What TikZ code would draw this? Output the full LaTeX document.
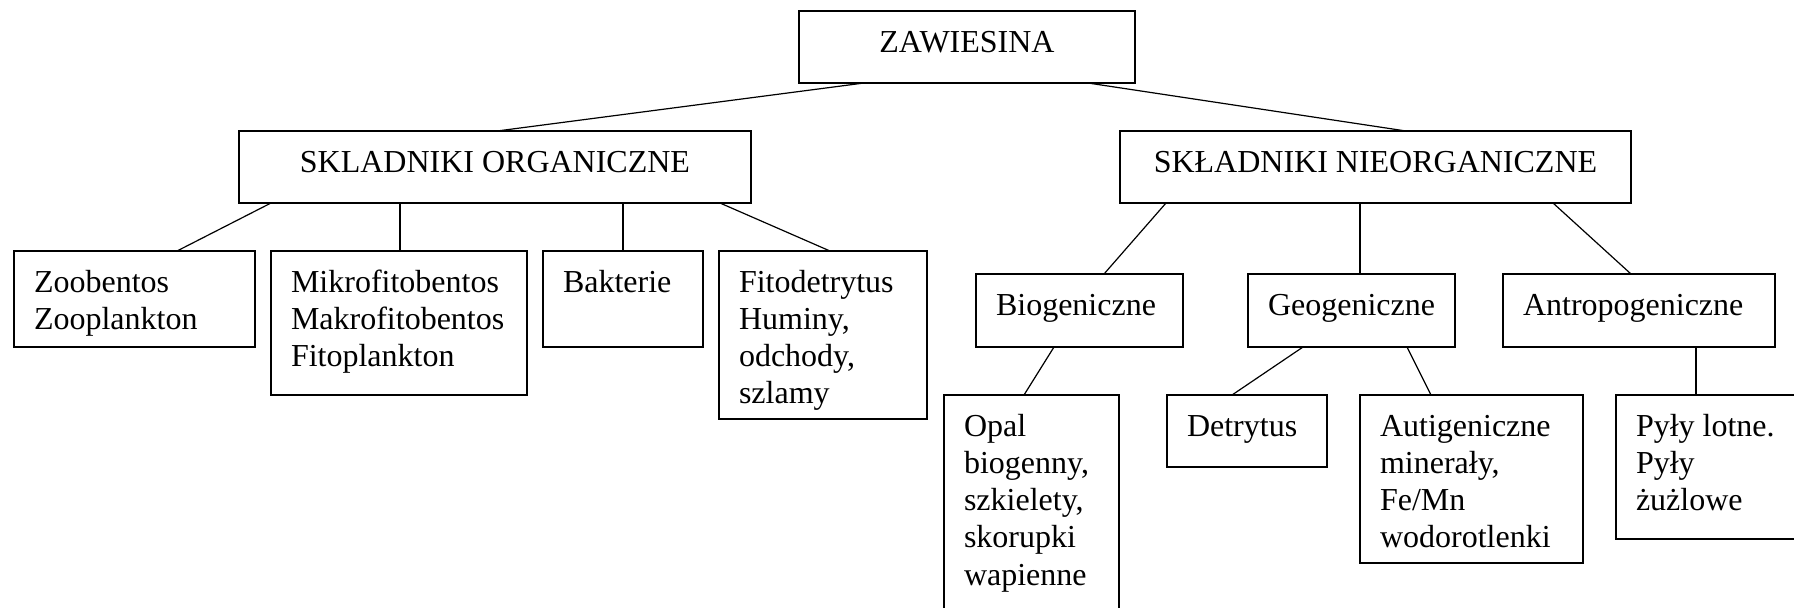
\documentclass[tikz,border=0pt]{standalone}
\usepackage{fontspec}
\setmainfont{Liberation Serif}
\usetikzlibrary{calc}
\newcommand\lbox[3]{\vbox to #2{\hsize=#1\relax\parindent=0pt\leftskip=10pt\rightskip=0pt plus 1fil\parfillskip=0pt plus 1fil\baselineskip=18.65pt\lineskiplimit=-100pt\hbadness=10000\noindent\rule{0pt}{20.5pt}#3\par\vfil}}
\newcommand\cbox[3]{\vbox to #2{\hsize=#1\relax\parindent=0pt\leftskip=0pt plus 1fil\rightskip=0pt plus 1fil\parfillskip=0pt\baselineskip=18.65pt\lineskiplimit=-100pt\hbadness=10000\noindent\rule{0pt}{20.5pt}#3\par\vfil}}
\tikzset{
  bx/.style={draw, line width=0.8pt, inner sep=0pt, outer sep=0pt, anchor=north west,
    font=\fontsize{16pt}{18.65pt}\selectfont},
  con/.style={line width=0.6pt}
}
\begin{document}
\begin{tikzpicture}[x=0.5pt, y=-0.5pt]
\useasboundingbox (0,0) rectangle (1794,607);
% level 0
\node[bx] (zaw) at (799,11) {\cbox{168pt}{36pt}{ZAWIESINA}};
% level 1
\node[bx] (org) at (239,131) {\cbox{256pt}{36pt}{SKLADNIKI ORGANICZNE}};
\node[bx] (nie) at (1120,131) {\cbox{255.5pt}{36pt}{SKŁADNIKI NIEORGANICZNE}};
% organic children
\node[bx] (zoob) at (14,251) {\lbox{120.5pt}{48pt}{Zoobentos\\Zooplankton}};
\node[bx] (mikro) at (271,251) {\lbox{128pt}{72pt}{Mikrofitobentos\\Makrofitobentos\\Fitoplankton}};
\node[bx] (bakt) at (543,251) {\lbox{80pt}{48pt}{Bakterie}};
\node[bx] (fito) at (719,251) {\lbox{104pt}{84pt}{Fitodetrytus\\Huminy,\\odchody,\\szlamy}};
% inorganic children
\node[bx] (bio) at (976,274) {\lbox{103.5pt}{36.5pt}{Biogeniczne}};
\node[bx] (geo) at (1248,274) {\lbox{103.5pt}{36.5pt}{Geogeniczne}};
\node[bx] (antro) at (1503,274) {\lbox{136pt}{36.5pt}{Antropogeniczne}};
% level 3
\node[bx] (opal) at (944,395) {\lbox{87.5pt}{115pt}{Opal\\biogenny,\\szkielety,\\skorupki\\wapienne}};
\node[bx] (detr) at (1167,395) {\lbox{80pt}{36pt}{Detrytus}};
\node[bx] (autig) at (1360,395) {\lbox{111.5pt}{84pt}{Autigeniczne\\minerały,\\Fe/Mn\\wodorotlenki}};
\node[bx] (pyly) at (1616,395) {\lbox{100pt}{72pt}{Pyły lotne.\\Pyły\\żużlowe}};
% connectors
\draw[con] ($(zaw.south west)+(65,0)$) -- ($(org.north west)+(258,0)$);
\draw[con] ($(zaw.south west)+(289,0)$) -- ($(nie.north west)+(286,0)$);
\draw[con] ($(org.south west)+(32,0)$) -- ($(zoob.north west)+(163,0)$);
\draw[con] ($(org.south west)+(161,0)$) -- ($(mikro.north west)+(129,0)$);
\draw[con] ($(org.south west)+(384,0)$) -- ($(bakt.north west)+(80,0)$);
\draw[con] ($(org.south west)+(481,0)$) -- ($(fito.north west)+(111,0)$);
\draw[con] ($(nie.south west)+(46,0)$) -- ($(bio.north west)+(128,0)$);
\draw[con] ($(nie.south west)+(240,0)$) -- ($(geo.north west)+(112,0)$);
\draw[con] ($(nie.south west)+(433,0)$) -- ($(antro.north west)+(128,0)$);
\draw[con] ($(bio.south west)+(78,0)$) -- ($(opal.north west)+(80,0)$);
\draw[con] ($(geo.south west)+(55,0)$) -- ($(detr.north west)+(65,0)$);
\draw[con] ($(geo.south west)+(159,0)$) -- ($(autig.north west)+(71,0)$);
\draw[con] ($(antro.south west)+(193,0)$) -- ($(pyly.north west)+(80,0)$);
\end{tikzpicture}
\end{document}
